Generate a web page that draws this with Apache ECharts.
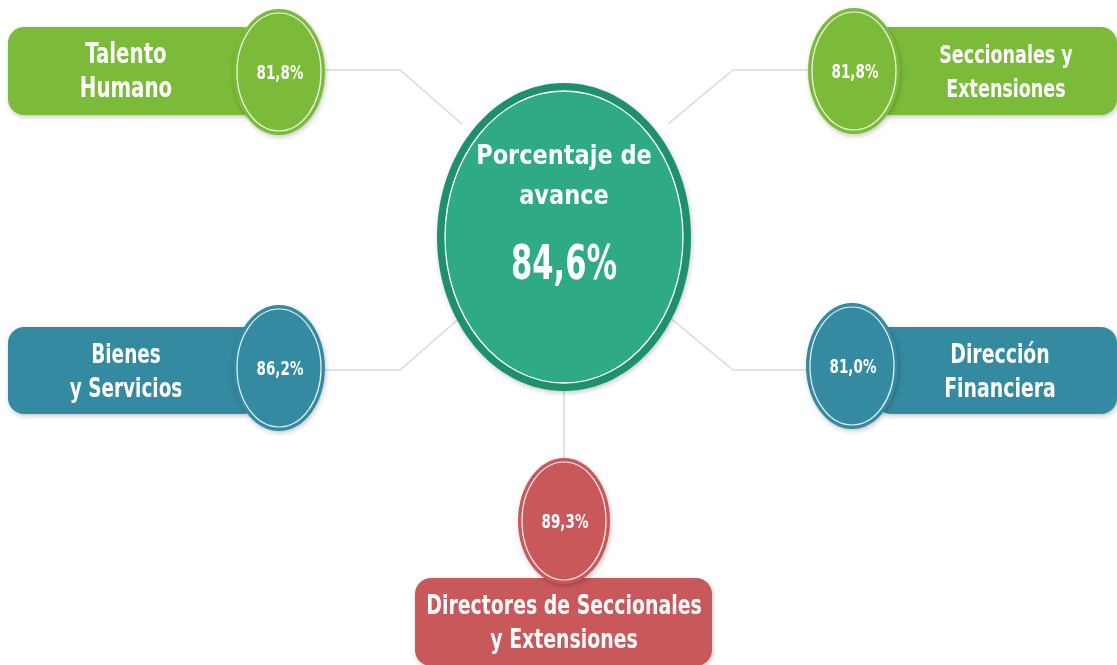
<!DOCTYPE html>
<html>
<head>
<meta charset="utf-8">
<title>Porcentaje de avance</title>
<script src="https://cdn.jsdelivr.net/npm/echarts@6/dist/echarts.min.js"></script>
<style>
  html, body { margin: 0; padding: 0; background: #fff; }
  #main { width: 1117px; height: 665px; }
</style>
</head>
<body>
<div id="main"></div>
<script>
var areas = ['Talento\nHumano', 'Seccionales y\nExtensiones', 'Bienes\ny Servicios', 'Dirección\nFinanciera', 'Directores de Seccionales\ny Extensiones'];
var values = [81.8, 81.8, 86.2, 81.0, 89.3];
var centerTitle = 'Porcentaje de\navance';
var centerValue = 84.6;

var colors = ['#7cbb3a', '#7cbb3a', '#348aa0', '#348aa0', '#c9585b'];
var FONT = "'DejaVu Sans Condensed', 'DejaVu Sans', sans-serif";

// where each box sits on the page; fs = label font size
var slots = [
  { cx: 279, cy: 72, pill: [8, 27, 250, 88], text: [126, 73], fs: 22, line: [[325, 70], [400, 70], [462, 124]] },
  { cx: 854, cy: 71, pill: [875, 27, 242, 88], text: [1006, 74], fs: 19.5, line: [[808, 70], [733, 70], [668, 124]] },
  { cx: 279, cy: 368, pill: [8, 327, 250, 87], text: [126, 373], fs: 20.5, line: [[323, 370], [400, 370], [462, 316]] },
  { cx: 852, cy: 366, pill: [875, 327, 242, 87], text: [1000, 373], fs: 21, line: [[807, 370], [733, 370], [668, 316]] },
  { cx: 564, cy: 521, pill: [415, 578, 297, 88], text: [564, 624], fs: 21, line: [[564, 390], [564, 462]] }
];
var center = { cx: 564, cy: 237, rx: 127, ry: 154 };

function fmt(v) {
  return v.toFixed(1).replace('.', ',') + '%';
}

var shadow = { shadowBlur: 5, shadowOffsetX: 1, shadowOffsetY: 2, shadowColor: 'rgba(0,0,0,0.22)' };

// text is a bit tall and narrow in the original, so stretch it vertically
function label(x, y, text, size, sy, lh) {
  return {
    type: 'text', x: x, y: y, scaleY: sy,
    style: { x: 0, y: 0, text: text, fill: '#fff', fontFamily: FONT, fontWeight: 'bold', fontSize: size,
      lineHeight: lh ? lh / sy : undefined, align: 'center', verticalAlign: 'middle' }
  };
}

function renderArea(params, api) {
  var i = params.dataIndex;
  var s = slots[i];
  var c = colors[i];
  return {
    type: 'group',
    children: [
      { type: 'polyline', shape: { points: s.line }, style: { stroke: '#d9d9d9', lineWidth: 1.5, fill: null } },
      { type: 'rect', shape: { x: s.pill[0], y: s.pill[1], width: s.pill[2], height: s.pill[3], r: 16 },
        style: Object.assign({ fill: c }, shadow) },
      label(s.text[0], s.text[1], areas[i], s.fs, 1.28, 34),
      { type: 'ellipse', shape: { cx: s.cx, cy: s.cy, rx: 46, ry: 63 }, style: Object.assign({ fill: c }, shadow) },
      { type: 'ellipse', shape: { cx: s.cx, cy: s.cy, rx: 42, ry: 59 }, style: { fill: null, stroke: '#fff', lineWidth: 1.2, opacity: 0.9 } },
      label(s.cx + 1, s.cy + 2, fmt(api.value(0)), 15, 1.35)
    ]
  };
}

function renderCenter(params, api) {
  var c = center;
  return {
    type: 'group',
    children: [
      { type: 'ellipse', shape: { cx: c.cx, cy: c.cy, rx: c.rx, ry: c.ry }, style: Object.assign({ fill: '#1e9070' }, shadow) },
      { type: 'ellipse', shape: { cx: c.cx, cy: c.cy, rx: c.rx - 8, ry: c.ry - 8 }, style: { fill: '#2eaa86', stroke: '#fff', lineWidth: 1.3 } },
      label(c.cx, 177, centerTitle, 25, 1.05, 40),
      label(c.cx, 266, fmt(api.value(0)), 34, 1.42)
    ]
  };
}

var myChart = echarts.init(document.getElementById('main'));
myChart.setOption({
  animation: false,
  series: [
    {
      type: 'custom',
      coordinateSystem: 'none',
      renderItem: renderArea,
      data: values.map(function (v, i) { return { name: areas[i], value: v }; })
    },
    {
      type: 'custom',
      coordinateSystem: 'none',
      renderItem: renderCenter,
      data: [{ name: centerTitle, value: centerValue }]
    }
  ]
});
</script>
</body>
</html>
